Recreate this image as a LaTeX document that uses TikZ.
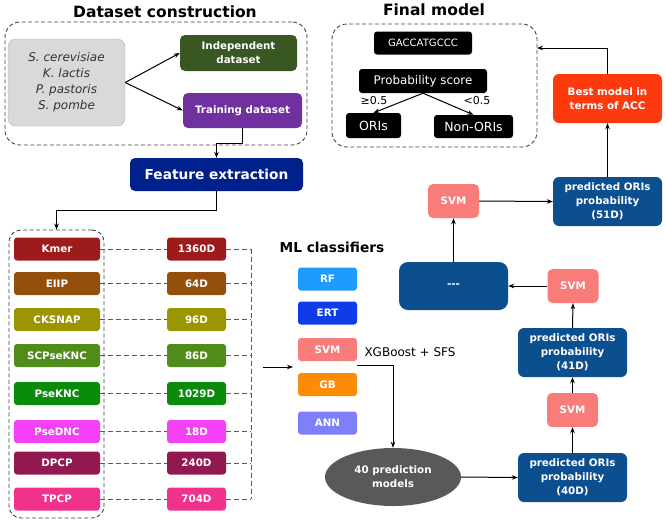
\documentclass[tikz,border=0pt]{standalone}
\usepackage{fontspec}
\setmainfont{DejaVu Sans}
\usetikzlibrary{arrows.meta,shapes.geometric}
\definecolor{specgray}{RGB}{217,217,217}
\definecolor{specborder}{RGB}{175,175,175}
\definecolor{indgreen}{RGB}{56,87,35}
\definecolor{trpurple}{RGB}{112,48,160}
\definecolor{feblue}{RGB}{0,32,140}
\definecolor{ckmer}{RGB}{158,27,27}
\definecolor{ceiip}{RGB}{148,80,10}
\definecolor{cck}{RGB}{155,150,0}
\definecolor{cscp}{RGB}{80,140,25}
\definecolor{cpseknc}{RGB}{10,140,10}
\definecolor{cpsednc}{RGB}{245,65,245}
\definecolor{cdpcp}{RGB}{145,25,80}
\definecolor{ctpcp}{RGB}{240,50,140}
\definecolor{crf}{RGB}{30,155,255}
\definecolor{cert}{RGB}{15,60,230}
\definecolor{csvm}{RGB}{248,124,122}
\definecolor{cgb}{RGB}{252,140,5}
\definecolor{cann}{RGB}{125,128,250}
\definecolor{ellgray}{RGB}{89,89,89}
\definecolor{probblue}{RGB}{12,79,143}
\definecolor{bestred}{RGB}{252,58,14}
\begin{document}
\begin{tikzpicture}[x=1pt,y=-1pt,
  box/.style={rounded corners=3pt, inner sep=0pt, align=center, text=white, font=\fontsize{10.3}{14}\selectfont\bfseries},
  featb/.style={box, minimum width=86pt, minimum height=23pt},
  dimb/.style={box, minimum width=59pt, minimum height=23pt},
  clsb/.style={box, minimum width=59pt, minimum height=23pt},
  probb/.style={box, fill=probblue, rounded corners=6pt, minimum width=109pt, minimum height=49pt},
  svmb/.style={box, fill=csvm, rounded corners=5pt, minimum width=51pt, minimum height=34pt},
  blk/.style={fill=black, rounded corners=3pt, text=white, inner sep=0pt},
  dbox/.style={draw=black!75, dash pattern=on 4pt off 2.5pt, rounded corners=15pt, line width=0.9pt},
  dl/.style={draw=black!65, dash pattern=on 5pt off 3pt, line width=0.9pt},
  arr/.style={-{Stealth[length=6pt,width=4.5pt]}, line width=1pt},
  ttl/.style={font=\fontsize{15.5}{18}\selectfont\bfseries}
]
\useasboundingbox (0,0) rectangle (666,528);

% titles
\node[ttl] (t1) at (165,12) {Dataset construction};
\node[ttl] (t2) at (434,10) {Final model};
\node[font=\fontsize{13.7}{16}\selectfont\bfseries] (t3) at (332,247) {ML classifiers};

% dashed frames
\node[dbox, minimum width=302pt, minimum height=123pt] (dc) at (156,83.5) {};
\node[dbox, minimum width=205pt, minimum height=123pt] (fm) at (434.5,85.5) {};
\node[dbox, minimum width=95pt, minimum height=288pt, rounded corners=12pt] (fl) at (56.5,374) {};

% dataset construction
\node[fill=specgray, draw=specborder, rounded corners=8pt, minimum width=117pt, minimum height=87pt, align=center, font=\fontsize{12}{16}\selectfont\itshape, text=black!80, inner sep=0pt] (sp) at (66.5,82.5) {S. cerevisiae\\K. lactis\\P. pastoris\\S. pombe};
\node[box, fill=indgreen, minimum width=117pt, minimum height=36pt, rounded corners=5pt] (ind) at (238.5,53) {Independent\\dataset};
\node[box, fill=trpurple, minimum width=119pt, minimum height=35pt, rounded corners=5pt] (tr) at (242.5,110.5) {Training dataset};
\node[box, fill=feblue, minimum width=173pt, minimum height=33pt, rounded corners=5pt, font=\fontsize{13.7}{16}\selectfont\bfseries] (fe) at (216.5,174.5) {Feature extraction};

\draw[arr] (sp.east) -- (ind.west);
\draw[arr] (sp.east) -- (tr.west);
\draw[arr] (tr.south) -- ++(0,15) -| (fe.north);
\draw[arr] (fe.south) -- ++(0,19) -| (fl.north);

% features
\node[featb, fill=ckmer] (f1) at (57,249) {Kmer};
\node[featb, fill=ceiip] (f2) at (57,283.5) {EIIP};
\node[featb, fill=cck] (f3) at (57,319.5) {CKSNAP};
\node[featb, fill=cscp] (f4) at (57,355.5) {SCPseKNC};
\node[featb, fill=cpseknc] (f5) at (57,393.5) {PseKNC};
\node[featb, fill=cpsednc] (f6) at (57,431.5) {PseDNC};
\node[featb, fill=cdpcp] (f7) at (57,463) {DPCP};
\node[featb, fill=ctpcp] (f8) at (57,499) {TPCP};

\node[dimb, fill=ckmer] (d1) at (196.5,249) {1360D};
\node[dimb, fill=ceiip] (d2) at (196.5,283.5) {64D};
\node[dimb, fill=cck] (d3) at (196.5,319.5) {96D};
\node[dimb, fill=cscp] (d4) at (196.5,355.5) {86D};
\node[dimb, fill=cpseknc] (d5) at (196.5,393.5) {1029D};
\node[dimb, fill=cpsednc] (d6) at (196.5,431.5) {18D};
\node[dimb, fill=cdpcp] (d7) at (196.5,463) {240D};
\node[dimb, fill=ctpcp] (d8) at (196.5,499) {704D};

\coordinate (vtop) at (251,249);
\coordinate (vbot) at (251,499);
\foreach \i in {1,...,8}{
  \draw[dl] (f\i.east) -- (d\i.west);
  \draw[dl] (d\i.east) -- (d\i.east -| vtop);
}
\draw[dl] (vtop) -- (vbot);

\coordinate (a1) at (263,367);
\coordinate (a2) at (293,367);
\draw[arr] (a1) -- (a2);

% classifiers
\node[clsb, fill=crf] (c1) at (327.5,279) {RF};
\node[clsb, fill=cert] (c2) at (327.5,313) {ERT};
\node[clsb, fill=csvm] (c3) at (327.5,349.5) {SVM};
\node[clsb, fill=cgb] (c4) at (327.5,384.5) {GB};
\node[clsb, fill=cann] (c5) at (327.5,423) {ANN};
\node[font=\fontsize{12}{14}\selectfont] (xg) at (410,352) {XGBoost + SFS};

\node[ellipse, fill=ellgray, minimum width=136pt, minimum height=58pt, inner sep=0pt, text=white, font=\fontsize{10.3}{14}\selectfont\bfseries, align=center] (ell) at (393,477) {40 prediction\\models};
\coordinate (xs) at (357,365);
\draw[arr] (xs) -| (ell.north);

% stacking
\node[probb] (p40) at (572.5,477.5) {predicted ORIs\\probability\\(40D)};
\node[svmb] (s2) at (572.5,410) {SVM};
\node[probb] (p41) at (572.5,352.5) {predicted ORIs\\probability\\(41D)};
\node[svmb] (s3) at (573,286) {SVM};
\node[box, fill=probblue, rounded corners=9pt, minimum width=109pt, minimum height=48pt] (dsh) at (453.5,286) {{-}{-}{-}};
\node[svmb] (s4) at (453.5,201) {SVM};
\node[probb] (p51) at (607.5,201.5) {predicted ORIs\\probability\\(51D)};
\node[box, fill=bestred, rounded corners=6pt, minimum width=109pt, minimum height=49pt] (best) at (607.5,98.5) {Best model in\\terms of ACC};

\draw[arr] (ell.east) -- (p40.west);
\draw[arr] (p40.north) -- (s2.south);
\draw[arr] (s2.north) -- (p41.south);
\draw[arr] (p41.north) -- (s3.south);
\draw[arr] (s3.west) -- (dsh.east);
\draw[arr] (dsh.north) -- (s4.south);
\draw[arr] (s4.east) -- (p51.west);
\draw[arr] (p51.north) -- (best.south);
\coordinate (fin) at (537,48);
\draw[arr] (best.north) |- (fin);

% final model
\node[blk, minimum width=98pt, minimum height=23pt, font=\fontsize{10.1}{12}\selectfont] (gac) at (423,43) {GACCATGCCC};
\node[blk, minimum width=128pt, minimum height=24pt, font=\fontsize{11.9}{14}\selectfont] (pr) at (423,81) {Probability score};
\node[blk, minimum width=55pt, minimum height=25pt, font=\fontsize{12.5}{14}\selectfont] (ori) at (373.5,125.5) {ORIs};
\node[blk, minimum width=79pt, minimum height=23pt, font=\fontsize{12.5}{14}\selectfont] (non) at (473.5,126.5) {Non-ORIs};
\draw[arr] (pr.south) -- (ori.north);
\draw[arr] (pr.south) -- (non.north);
\node[font=\fontsize{11}{13}\selectfont] (ge) at (374,100) {≥0.5};
\node[font=\fontsize{11}{13}\selectfont] (lt) at (477,100) {<0.5};
\end{tikzpicture}
\end{document}
